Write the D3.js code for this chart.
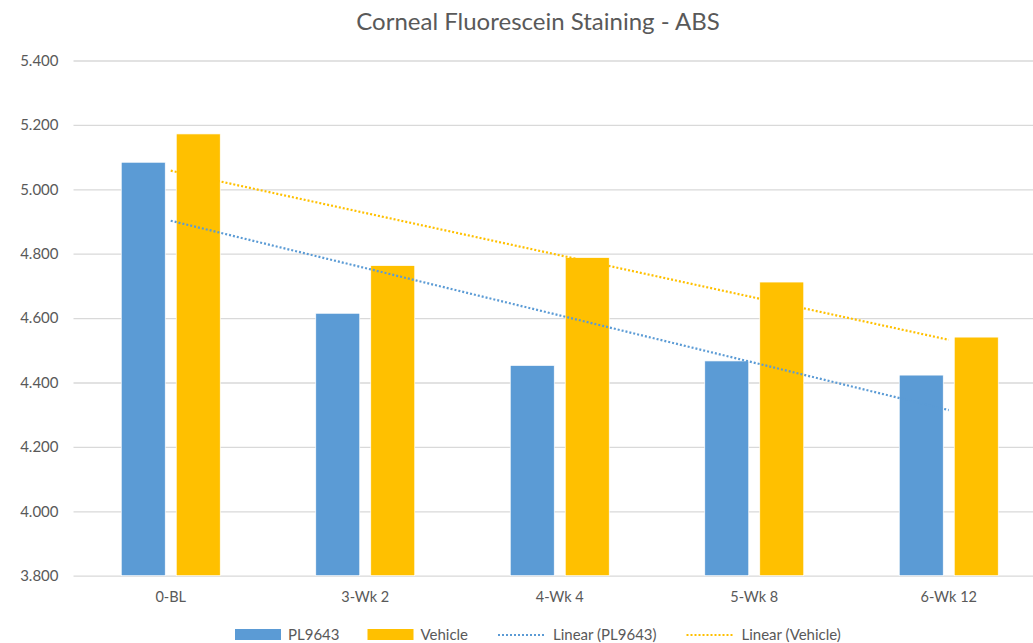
<!DOCTYPE html>
<html><head><meta charset="utf-8">
<script src="https://cdn.jsdelivr.net/npm/d3@7"></script>
<style>body{margin:0;background:#fff;} svg{display:block;font-family:Lato,'Open Sans',sans-serif;}</style>
</head><body>
<svg id="chart" width="1033" height="643"></svg>
<script>
const title = "Corneal Fluorescein Staining - ABS";
const categories = ["0-BL", "3-Wk 2", "4-Wk 4", "5-Wk 8", "6-Wk 12"];
const seriesNames = ["PL9643", "Vehicle"];
const pl9643 = [5.084, 4.615, 4.453, 4.467, 4.423];
const vehicle = [5.172, 4.763, 4.788, 4.712, 4.541];
const yTicks = [3.8, 4.0, 4.2, 4.4, 4.6, 4.8, 5.0, 5.2, 5.4];
const colors = {PL9643: "#5B9BD5", Vehicle: "#FFC000"};

const svg = d3.select("#chart");
const x = d3.scaleBand().domain(categories).range([73.5, 1046]);
const xs = d3.scaleBand().domain(seriesNames).range([-49.5, 49.5]).paddingInner(0.2);
const y = d3.scaleLinear().domain([3.8, 5.4]).range([575.7, 60.5]);

// gridlines
const yAxis = d3.axisLeft(y).tickValues(yTicks).tickFormat(d3.format(".3f")).tickSize(-(1046 - 73.5)).tickPadding(15);
const gy = svg.append("g").attr("transform", "translate(73.5,0)").call(yAxis);
gy.select(".domain").remove();
gy.selectAll(".tick line").attr("stroke", "#d9d9d9").attr("stroke-width", 1.3);
gy.selectAll(".tick text").attr("fill", "#595959").style("font-size", "15px").attr("font-family", "Lato");

// bars
const data = [pl9643, vehicle];
seriesNames.forEach((s, si) => {
  svg.append("g").selectAll("rect").data(categories).join("rect")
    .attr("x", c => x(c) + x.bandwidth() / 2 + xs(s))
    .attr("width", xs.bandwidth())
    .attr("y", (c, i) => y(data[si][i]))
    .attr("height", (c, i) => y(3.8) - y(data[si][i]))
    .attr("fill", colors[s])
    .attr("stroke", "#ffffff").attr("stroke-width", 0.7);
});

// x axis labels
const xAxis = d3.axisBottom(x).tickSize(0).tickPadding(16);
const gx = svg.append("g").attr("transform", "translate(0,575.7)").call(xAxis);
gx.select(".domain").remove();
gx.selectAll(".tick text").attr("fill", "#595959").style("font-size", "14.5px").attr("font-family", "Lato");

// linear trendlines
function linReg(vals) {
  const n = vals.length, xsv = vals.map((v, i) => i + 1);
  const mx = d3.mean(xsv), my = d3.mean(vals);
  const b = d3.sum(vals.map((v, i) => (xsv[i] - mx) * (v - my))) / d3.sum(xsv.map(v => (v - mx) ** 2));
  const a = my - b * mx;
  return [a + b * 1, a + b * n];
}
seriesNames.forEach((s, si) => {
  const [v0, v1] = linReg(data[si]);
  const c0 = categories[0], c1 = categories[categories.length - 1];
  svg.append("line")
    .attr("x1", x(c0) + x.bandwidth() / 2).attr("y1", y(v0))
    .attr("x2", x(c1) + x.bandwidth() / 2).attr("y2", y(v1))
    .attr("stroke", colors[s]).attr("stroke-width", 2.2)
    .attr("stroke-dasharray", "2,2");
});

// title
svg.append("text").attr("x", 538).attr("y", 30).attr("text-anchor", "middle")
  .attr("fill", "#595959").style("font-size", "24px").text(title);

// legend
const legend = [
  {label: "PL9643", type: "rect", color: colors.PL9643, x: 235},
  {label: "Vehicle", type: "rect", color: colors.Vehicle, x: 367.5},
  {label: "Linear (PL9643)", type: "line", color: colors.PL9643, x: 498},
  {label: "Linear (Vehicle)", type: "line", color: colors.Vehicle, x: 686.5}
];
const lg = svg.append("g");
legend.forEach(l => {
  if (l.type === "rect") {
    lg.append("rect").attr("x", l.x).attr("y", 629).attr("width", 46).attr("height", 11).attr("fill", l.color);
  } else {
    lg.append("line").attr("x1", l.x).attr("x2", l.x + 48).attr("y1", 635).attr("y2", 635)
      .attr("stroke", l.color).attr("stroke-width", 2.2).attr("stroke-dasharray", "2,2");
  }
  lg.append("text").attr("x", l.x + (l.type === "rect" ? 53 : 55)).attr("y", 640)
    .attr("fill", "#595959").style("font-size", "15px").text(l.label);
});
</script>
</body></html>
